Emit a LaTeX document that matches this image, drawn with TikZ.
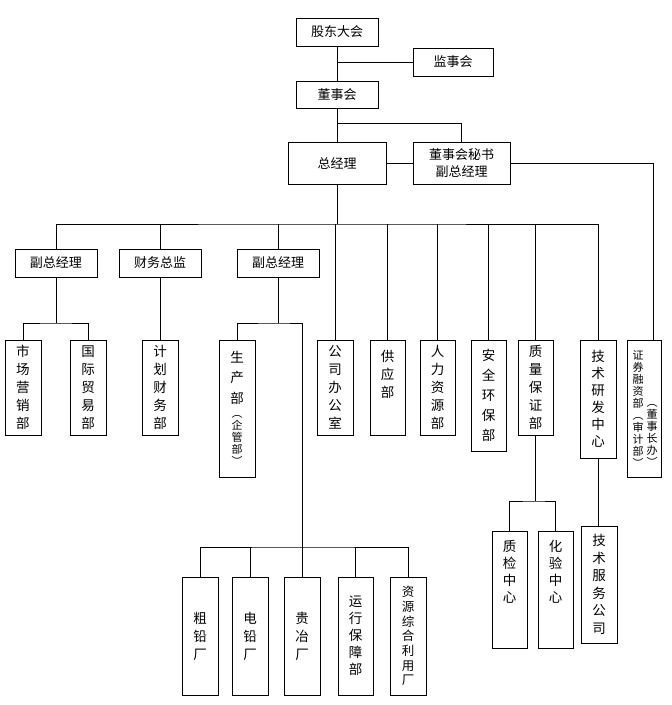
\documentclass[tikz,border=0pt]{standalone}
\usepackage{fontspec}
\newfontfamily\cjk{Noto Sans CJK SC}
\usetikzlibrary{positioning}

\tikzset{
  org/.style={draw, line width=0.9pt, inner sep=0pt, align=center},
  hbox/.style={org, minimum height=28pt, font=\cjk\fontsize{13}{17}\selectfont},
  vbox/.style={org, minimum width=36pt, font=\cjk\fontsize{13.5}{18}\selectfont},
  vtxt/.style={inner sep=0pt, align=center, font=\cjk\fontsize{13.5}{18}\selectfont},
  xtxt/.style={inner sep=0pt, align=center, font=\cjk\fontsize{11}{12}\selectfont},
  link/.style={line width=0.9pt},
}
\newcommand\dazi[1]{{\fontsize{13.5}{12}\selectfont #1}}

\begin{document}
\begin{tikzpicture}[x=1pt, y=-1pt]
  \useasboundingbox (0,0) rectangle (672,705);

  % 决策层
  \node[hbox, minimum width=82pt] (gd) at (337,32) {股东大会};
  \node[hbox, minimum width=80pt] (js) at (453,62) {监事会};
  \node[hbox, minimum width=82pt, minimum height=27pt] (dsh) at (337,94.5) {董事会};
  \node[hbox, minimum width=98pt, minimum height=42pt] (zjl) at (337,163) {总经理};
  \node[hbox, minimum width=97pt, minimum height=42pt] (ms) at (461.5,163) {董事会秘书\\副总经理};

  % 分管领导
  \node[hbox, minimum width=82pt] (fz1) at (56,263) {副总经理};
  \node[hbox, minimum width=82pt] (cw) at (160,263) {财务总监};
  \node[hbox, minimum width=82pt] (fz2) at (278,263) {副总经理};

  % 职能部门
  \node[vbox, minimum height=95pt] (scyx) at (23,387.5) {市\\场\\营\\销\\部};
  \node[vbox, minimum height=95pt] (gjmy) at (88,387.5) {国\\际\\贸\\易\\部};
  \node[vbox, minimum height=95pt] (jhcw) at (160,387.5) {计\\划\\财\\务\\部};
  \node[vbox, minimum height=137pt, font=\cjk\fontsize{11}{12}\selectfont] (scb) at (237,408.5)
    {\dazi{生}\\[7pt]\dazi{产}\\[7pt]\dazi{部}\\[2pt]︵\\企\\管\\部\\︶};
  \node[vbox, minimum height=95pt] (gsbgs) at (335,387.5) {公\\司\\办\\公\\室};
  \node[vbox, minimum width=35pt, minimum height=95pt] (gyb) at (387.5,387.5) {};
  \node[vtxt] (gyb-t) at (387.5,374) {供\\应\\部};
  \node[vbox, minimum width=35pt, minimum height=95pt] (rlzy) at (437.5,387.5) {人\\力\\资\\源\\部};
  \node[vbox, minimum width=35pt, minimum height=111pt, font=\cjk\fontsize{13.5}{20}\selectfont] (aqhb) at (488.5,395.5) {安\\全\\环\\保\\部};
  \node[vbox, minimum width=35pt, minimum height=95pt] (zlbz) at (535.5,387.5) {质\\量\\保\\证\\部};
  \node[vbox, minimum height=118pt, font=\cjk\fontsize{13.5}{17}\selectfont] (jsyf) at (598,399) {技\\术\\研\\发\\中\\心};
  \node[vbox, minimum width=34pt, minimum height=137pt] (zqrz) at (644,408.5) {};
  \node[xtxt] (zqrz-l) at (638,409) {证\\券\\融\\资\\部\\︵\\审\\计\\部\\︶};
  \node[xtxt] (zqrz-r) at (652,435) {︵\\董\\事\\长\\办\\︶};

  % 下属单位
  \node[vbox, minimum width=35pt, minimum height=117pt] (zjzx) at (509.5,589.5) {};
  \node[vtxt, font=\cjk\fontsize{13.5}{17}\selectfont] (zjzx-t) at (509.5,572) {质\\检\\中\\心};
  \node[vbox, minimum width=35pt, minimum height=117pt] (hyzx) at (555.5,589.5) {};
  \node[vtxt, font=\cjk\fontsize{13.5}{17}\selectfont] (hyzx-t) at (555.5,572) {化\\验\\中\\心};
  \node[vbox, minimum height=117pt, font=\cjk\fontsize{13.5}{17.5}\selectfont] (jsfw) at (599,584.5) {技\\术\\服\\务\\公\\司};

  \node[vbox, minimum height=118pt] (cqc) at (200,636) {粗\\铅\\厂};
  \node[vbox, minimum height=118pt] (dqc) at (250,636) {电\\铅\\厂};
  \node[vbox, minimum height=118pt] (gyc) at (302,636) {贵\\冶\\厂};
  \node[vbox, minimum width=35pt, minimum height=118pt, font=\cjk\fontsize{13.5}{17}\selectfont] (yxbz) at (355.5,636) {运\\行\\保\\障\\部};
  \node[vbox, minimum height=118pt, font=\cjk\fontsize{12.5}{14.7}\selectfont] (zyzh) at (408,636) {资\\源\\综\\合\\利\\用\\厂};

  % 上层连线
  \draw[link] (gd) -- (dsh);
  \draw[link] (js.west) -- (js.west -| gd.south);
  \draw[link] (dsh) -- (zjl);
  \coordinate (c1) at (337,123);
  \draw[link] (c1) -| (ms.north);
  \draw[link] (zjl) -- (ms);
  \draw[link] (ms.east) -| ([xshift=9pt]zqrz.north);

  % 总经理下的横线
  \coordinate (bus) at (337,224);
  \draw[link] (zjl) -- (bus);
  \draw[link] (fz1.north) |- (bus) -| (jsyf.north);
  \foreach \n in {cw,fz2,gsbgs,gyb,rlzy,aqhb,zlbz}
    \draw[link] (\n.north) -- (\n.north |- bus);

  % 副总经理、财务总监分支
  \coordinate (b1) at (56,323);
  \draw[link] (fz1) -- (b1);
  \draw[link] (scyx.north) |- (b1) -| (gjmy.north);
  \draw[link] (cw) -- (jhcw);

  \coordinate (b2) at (278,323);
  \coordinate (b3) at (302,547);
  \draw[link] (fz2) -- (b2);
  \draw[link] (scb.north) |- (b2) -| (b3);
  \draw[link] (cqc.north) |- (b3) -| (zyzh.north);
  \draw[link] (gyc) -- (b3);
  \foreach \n in {dqc,yxbz}
    \draw[link] (\n.north) -- (\n.north |- b3);

  % 质量保证部、技术研发中心分支
  \coordinate (b4) at (535.5,501);
  \draw[link] (zlbz) -- (b4);
  \draw[link] (zjzx.north) |- (b4) -| (hyzx.north);
  \draw[link] (jsyf.south) -- (jsyf.south |- jsfw.north);
\end{tikzpicture}
\end{document}
